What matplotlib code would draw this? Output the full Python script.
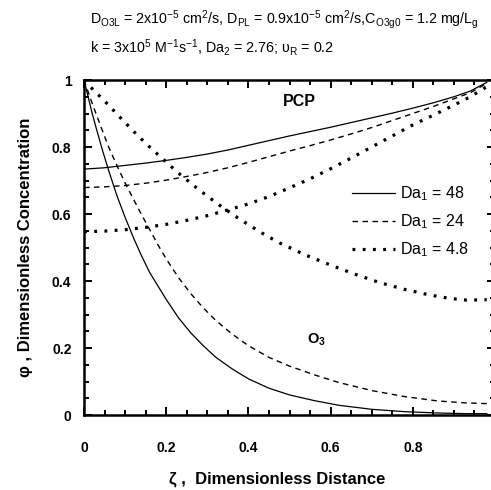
import numpy as np
import matplotlib
matplotlib.use("Agg")
import matplotlib.pyplot as plt
from matplotlib.ticker import MultipleLocator

plt.rcParams["font.family"] = ["Liberation Sans", "DejaVu Sans"]
plt.rcParams["mathtext.fontset"] = "custom"
plt.rcParams["mathtext.rm"] = "Liberation Sans"
plt.rcParams["mathtext.it"] = "Liberation Sans:italic"
plt.rcParams["mathtext.bf"] = "Liberation Sans:bold"

# --- data (zeta, phi) ---
# PCP profiles (rise towards the gas-liquid interface at zeta = 1)
pcp_zeta = [0.0, 0.05, 0.10, 0.15, 0.20, 0.25, 0.30, 0.35, 0.40, 0.45, 0.50,
            0.55, 0.60, 0.65, 0.70, 0.75, 0.80, 0.85, 0.90, 0.94, 0.98]
pcp_48 = [0.734, 0.738, 0.745, 0.752, 0.760, 0.769, 0.779, 0.791, 0.805, 0.819, 0.833,
          0.846, 0.859, 0.873, 0.887, 0.901, 0.916, 0.932, 0.950, 0.967, 0.993]
pcp_24 = [0.679, 0.681, 0.685, 0.692, 0.701, 0.712, 0.724, 0.738, 0.754, 0.771, 0.788,
          0.804, 0.821, 0.839, 0.858, 0.879, 0.900, 0.921, 0.944, 0.962, 0.990]
pcp_4p8 = [0.547, 0.549, 0.553, 0.560, 0.569, 0.581, 0.595, 0.612, 0.630, 0.652, 0.678,
           0.705, 0.735, 0.767, 0.800, 0.833, 0.866, 0.895, 0.925, 0.950, 0.980]

# O3 profiles (decay away from zeta = 0)
o3_zeta = [0.0, 0.01, 0.02, 0.03, 0.045, 0.06, 0.08, 0.10, 0.12, 0.14, 0.16, 0.18, 0.20,
           0.23, 0.26, 0.29, 0.32, 0.36, 0.40, 0.45, 0.50, 0.56, 0.62, 0.70, 0.78, 0.86,
           0.93, 0.98]
o3_48 = [1.0, 0.95, 0.90, 0.855, 0.79, 0.73, 0.655, 0.59, 0.53, 0.475, 0.425, 0.385, 0.345,
         0.29, 0.245, 0.207, 0.173, 0.138, 0.108, 0.080, 0.060, 0.043, 0.029, 0.017, 0.010,
         0.006, 0.004, 0.004]
o3_24 = [1.0, 0.965, 0.93, 0.897, 0.848, 0.80, 0.745, 0.693, 0.645, 0.598, 0.553, 0.508, 0.466,
         0.41, 0.362, 0.32, 0.283, 0.242, 0.207, 0.172, 0.146, 0.120, 0.097, 0.073, 0.055,
         0.042, 0.036, 0.034]
o3_zeta_4p8 = [0.0, 0.023, 0.06, 0.092, 0.13, 0.165, 0.20, 0.234, 0.28, 0.331, 0.37, 0.404,
               0.44, 0.477, 0.54, 0.599, 0.66, 0.72, 0.78, 0.842, 0.89, 0.931, 0.98]
o3_4p8 = [1.0, 0.97, 0.925, 0.883, 0.835, 0.794, 0.755, 0.718, 0.672, 0.625, 0.592, 0.565,
          0.538, 0.513, 0.477, 0.448, 0.420, 0.395, 0.375, 0.358, 0.348, 0.343, 0.344]

labels = [r"Da$_{\mathregular{1}}$ = 48", r"Da$_{\mathregular{1}}$ = 24", r"Da$_{\mathregular{1}}$ = 4.8"]
ticks = [0, 0.2, 0.4, 0.6, 0.8, 1.0]
tick_labels = ["0", "0.2", "0.4", "0.6", "0.8", "1"]

fig = plt.figure(figsize=(4.91, 4.90), dpi=100)
ax = fig.add_axes([84 / 491, 1 - 415 / 490, 411 / 491, 335 / 490])

solid = dict(color="black", lw=0.9, linestyle="-")
dashed = dict(color="black", lw=1.0, linestyle=(0, (4.0, 3.2)))
dotted = dict(color="black", lw=2.3, linestyle=(0, (0.9, 2.3)))

l1, = ax.plot(pcp_zeta, pcp_48, **solid)
l2, = ax.plot(pcp_zeta, pcp_24, **dashed)
l3, = ax.plot(pcp_zeta, pcp_4p8, **dotted)
ax.plot(o3_zeta, o3_48, **solid)
ax.plot(o3_zeta, o3_24, **dashed)
ax.plot(o3_zeta_4p8, o3_4p8, **dotted)

ax.set_xlim(0, 1)
ax.set_ylim(0, 1)
ax.set_xticks(ticks)
ax.set_xticklabels(tick_labels)
ax.set_yticks(ticks)
ax.set_yticklabels(tick_labels)
ax.xaxis.set_minor_locator(MultipleLocator(0.05))
ax.yaxis.set_minor_locator(MultipleLocator(0.05))
ax.tick_params(which="both", direction="in", top=True, right=True, width=1.4)
ax.tick_params(which="major", length=6, labelsize=10)
ax.tick_params(which="minor", length=3.5)
ax.tick_params(axis="x", pad=19)
ax.tick_params(axis="y", pad=9)
for t in ax.get_xticklabels() + ax.get_yticklabels():
    t.set_fontweight("bold")
for s in ax.spines.values():
    s.set_linewidth(1.8)

ax.set_xlabel("ζ ,  Dimensionless Distance", fontsize=12, fontweight="bold")
ax.set_ylabel("φ , Dimensionless Concentration", fontsize=12, fontweight="bold")
ax.xaxis.set_label_coords(0.47, -0.17)
ax.yaxis.set_label_coords(-0.125, 0.5)

ax.text(0.525, 0.937, "PCP", fontsize=11.5, fontweight="bold", ha="center", va="center")
ax.text(0.543, 0.224, r"O$_{\mathbf{3}}$", fontsize=10.5, fontweight="bold", ha="left", va="center")

ax.legend([l1, l2, l3], labels, loc="upper left", bbox_to_anchor=(0.652, 0.688),
          frameon=False, fontsize=11.5, handlelength=2.7, handletextpad=0.3,
          labelspacing=0.58, borderpad=0, borderaxespad=0)

fig.text(90 / 491, 1 - 20 / 490,
         r"D$_{\mathregular{O3L}}$ = 2x10$^{\mathregular{-5}}$ cm$^{\mathregular{2}}$/s, "
         r"D$_{\mathregular{PL}}$ = 0.9x10$^{\mathregular{-5}}$ cm$^{\mathregular{2}}$/s,"
         r"C$_{\mathregular{O3g0}}$ = 1.2 mg/L$_{\mathregular{g}}$",
         fontsize=10.3, ha="left", va="center")
fig.text(90 / 491, 1 - 47 / 490,
         r"k = 3x10$^{\mathregular{5}}$ M$^{\mathregular{-1}}$s$^{\mathregular{-1}}$, "
         r"Da$_{\mathregular{2}}$ = 2.76; υ$_{\mathregular{R}}$ = 0.2",
         fontsize=10.3, ha="left", va="center")

fig.savefig("out.png", dpi=100)
